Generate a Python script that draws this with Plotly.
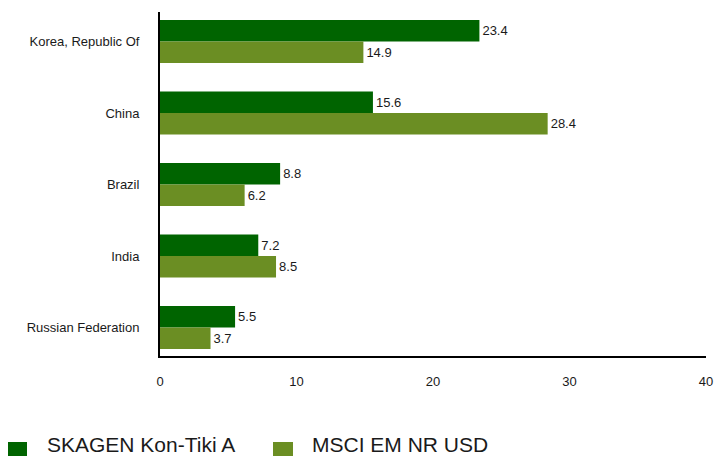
import plotly.graph_objects as go

categories = ["Korea, Republic Of", "China", "Brazil", "India", "Russian Federation"]
series_names = ["SKAGEN Kon-Tiki A", "MSCI EM NR USD"]
skagen_values = [23.4, 15.6, 8.8, 7.2, 5.5]
msci_values = [14.9, 28.4, 6.2, 8.5, 3.7]
x_ticks = [0, 10, 20, 30, 40]

colors = ["#006400", "#6B8E23"]
FONT = "Arial, 'Liberation Sans', sans-serif"
TXT = "#1a1a1a"

W, H = 715, 458
L, R, T, B = 160, 9, 12, 102
pw, ph = W - L - R, H - T - B

def px_x(p):
    return (p - L) / pw

def px_y(p):
    return (H - B - p) / ph

fig = go.Figure()
for name, vals, col in zip(series_names, [skagen_values, msci_values], colors):
    fig.add_trace(go.Bar(
        y=categories, x=vals, name=name, orientation="h",
        marker=dict(color=col, line=dict(width=0)),
        text=[f"{v:.1f}" for v in vals], textposition="outside",
        textfont=dict(family=FONT, size=13, color=TXT),
        cliponaxis=False, showlegend=False,
    ))

# custom legend
legend_pos = [(8, 27, 47), (273, 293, 312)]
for (x0, x1, tx), name, col in zip(legend_pos, series_names, colors):
    fig.add_shape(type="rect", xref="paper", yref="paper",
                  x0=px_x(x0), x1=px_x(x1), y0=px_y(456), y1=px_y(442),
                  fillcolor=col, line=dict(width=0))
    fig.add_annotation(xref="paper", yref="paper", x=px_x(tx - 2), y=px_y(458),
                       xanchor="left", yanchor="bottom", showarrow=False,
                       text=name, font=dict(family=FONT, size=21, color=TXT))

fig.update_layout(
    width=W, height=H,
    margin=dict(l=L, r=R, t=T, b=B, pad=0, autoexpand=False),
    paper_bgcolor="white", plot_bgcolor="white",
    barmode="group", bargap=0.4, bargroupgap=0,
    font=dict(family=FONT, size=13, color=TXT),
    showlegend=False,
    xaxis=dict(range=[0, 40], tickvals=x_ticks, showgrid=False, zeroline=False,
               showline=True, linecolor="black", linewidth=2, automargin=False,
               ticks="", ticklabelstandoff=12,
               tickfont=dict(family=FONT, size=13, color=TXT)),
    yaxis=dict(type="category", range=[4.399, -0.413], showgrid=False, zeroline=False,
               showline=True, linecolor="black", linewidth=2, automargin=False,
               ticks="", ticklabelstandoff=16,
               tickfont=dict(family=FONT, size=13, color=TXT)),
)

fig.write_html("out.html", config={"displayModeBar": False},
               post_script="document.body.style.margin='0';document.body.style.overflow='hidden';")
